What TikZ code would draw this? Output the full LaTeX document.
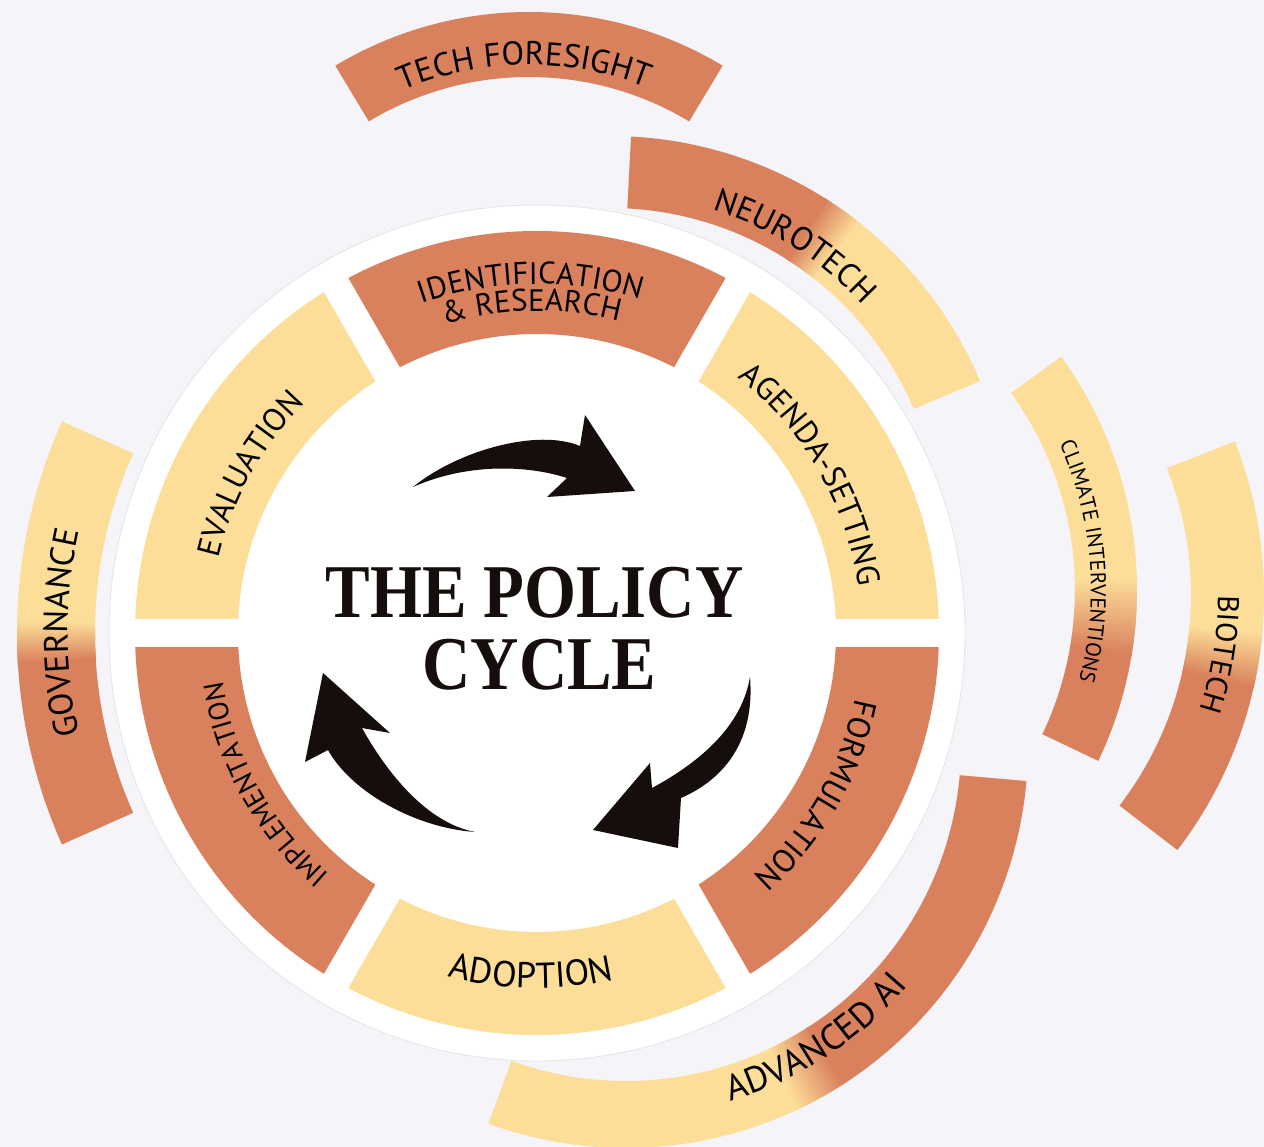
\documentclass[tikz,border=0pt]{standalone}
\usepackage{fontspec}
\usepackage{xcolor}
\usetikzlibrary{calc,decorations.text}
\newfontfamily\labelfont{PT Sans}
\newfontfamily\titlefont{Liberation Serif}
\definecolor{clay}{RGB}{217,129,93}
\definecolor{sand}{RGB}{253,222,153}
\definecolor{mist}{RGB}{244,244,249}
\definecolor{ink}{RGB}{22,14,12}

\newcommand{\ring}[6]{%
  \path[#6] ($(#1)+({#4}:#3)$) arc[start angle={#4}, end angle={#5}, radius=#3]
    -- ($(#1)+({#5}:#2)$) arc[start angle={#5}, end angle={#4}, radius=#2] -- cycle;}

\newcommand{\fadering}[9]{%
  \ring{#1}{#2}{#3}{#4}{#6-#7+0.5}{fill=#8}
  \ring{#1}{#2}{#3}{#6+#7-0.5}{#5}{fill=#9}
  \foreach \k in {0,...,19}{
    \pgfmathsetmacro\fadeA{#6-#7+#7*\k/10}
    \pgfmathsetmacro\fadeB{\fadeA+#7/10+0.4}
    \pgfmathtruncatemacro\fadeP{100*\k/19}
    \ring{#1}{#2}{#3}{\fadeA}{\fadeB}{fill=#9!\fadeP!#8}
  }}

\newcommand{\arclabel}[6]{%
  \path[decorate, decoration={text along path, text align=center,
      text={|\labelfont\fontsize{#5}{#5}\selectfont|#6}}]
    ($(#1)+({#3}:#2)$) arc[start angle={#3}, end angle={#4}, radius=#2];}

\begin{document}
\begin{tikzpicture}[
            x=1pt, y=1pt,
            title/.style={font=\titlefont\bfseries\fontsize{76}{76}\selectfont, text=ink, xscale=0.88, inner sep=0pt},
            curl/.style={fill=ink}
        ]

        \useasboundingbox (-537,-514) rectangle (727,633);
        \fill[mist] (-537,-514) rectangle (727,633);

        \coordinate (hub) at (0,0);
        \coordinate (foresight) at (-8,245);
        \coordinate (neuro) at (73,95);
        \coordinate (climate) at (203,43);
        \coordinate (bio) at (308,38);
        \coordinate (ai) at (89,-113);

        \ring{foresight}{311}{376}{59}{121}{fill=clay}
        \fadering{neuro}{330}{402}{23}{87}{54.5}{3}{sand}{clay}
        \fadering{climate}{335}{397}{-25.5}{36}{-4}{6}{clay}{sand}
        \fadering{bio}{346}{419}{-37.5}{21.5}{-9}{4}{clay}{sand}
        \fadering{ai}{335}{402}{-110}{-5}{-61}{4}{sand}{clay}
        \fadering{hub}{442}{520}{156}{204}{181}{2.5}{sand}{clay}

        \fill[white, draw=black!10, line width=0.8pt] (hub) circle[radius=428];

        \ring{hub}{299}{402}{60}{120}{fill=clay}
        \ring{hub}{299}{402}{0}{60}{fill=sand}
        \ring{hub}{299}{402}{-60}{0}{fill=clay}
        \ring{hub}{299}{402}{-120}{-60}{fill=sand}
        \ring{hub}{299}{402}{180}{240}{fill=clay}
        \ring{hub}{299}{402}{120}{180}{fill=sand}
        \foreach \g in {0,60,120}
            \draw[white, line width=28pt] (\g:412) -- ({\g+180}:412);

        \fill[curl] (-124,146) .. controls (-80,182) and (0,205) .. (43,187) -- (48,218) -- (98,142)
            -- (10,136) -- (30,155) .. controls (-10,168) and (-70,170) .. (-124,146) -- cycle;
        \fill[curl] (213,-44) .. controls (218,-105) and (190,-145) .. (144,-165) -- (141,-215) -- (56,-197)
            -- (113,-130) -- (115,-155) .. controls (165,-128) and (205,-92) .. (213,-44) -- cycle;
        \fill[curl] (-62,-199) .. controls (-120,-195) and (-185,-160) .. (-209,-117) -- (-232,-129) -- (-214,-40)
            -- (-147,-100) -- (-175,-95) .. controls (-150,-140) and (-110,-190) .. (-62,-199) -- cycle;

        \arclabel{hub}{349}{131}{51}{31}{IDENTIFICATION}
        \arclabel{hub}{322}{131}{51}{31}{{\&} RESEARCH}
        \arclabel{hub}{325}{70}{-10}{32}{AGENDA-SETTING}
        \arclabel{hub}{325}{10}{-70}{32}{FORMULATION}
        \arclabel{hub}{355}{-131}{-51}{36}{ADOPTION}
        \arclabel{hub}{318}{249}{169}{28}{IMPLEMENTATION}
        \arclabel{hub}{327}{191}{111}{32}{EVALUATION}

        \arclabel{foresight}{323}{130.8}{50.8}{33}{TECH FORESIGHT}
        \arclabel{neuro}{344}{97.7}{17.7}{33}{NEUROTECH}
        \arclabel{climate}{351}{44.8}{-35.2}{21.5}{CLIMATE INTERVENTIONS}
        \arclabel{bio}{373}{31}{-49}{30}{BIOTECH}
        \arclabel{ai}{370}{-97}{-17}{36}{ADVANCED AI}
        \arclabel{hub}{469}{220}{140}{34}{GOVERNANCE}

        \node[title, anchor=base] (policy) at (-2.5,15) {THE POLICY};
        \node[title, anchor=base] (cycle) at (2.5,-57) {CYCLE};

        \end{tikzpicture}
\end{document}
